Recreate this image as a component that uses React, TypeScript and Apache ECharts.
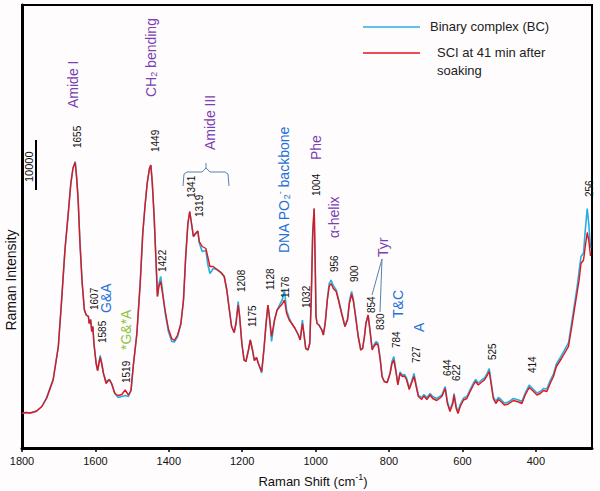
import React, { useEffect, useRef } from "react";
import * as echarts from "echarts";

// Raman shift (cm-1) sample positions
const shift = [
  1800, 1790, 1778, 1768, 1760, 1746, 1733, 1715, 1701, 1692,
  1683, 1674, 1667, 1661, 1655, 1651, 1647, 1642, 1636, 1630,
  1625, 1619, 1617, 1613, 1610, 1607, 1604, 1598, 1594, 1587,
  1583, 1578, 1571, 1562, 1556, 1547, 1538, 1528, 1519, 1510,
  1503, 1497, 1487, 1478, 1471, 1465, 1459, 1453, 1449, 1445,
  1440, 1435, 1431, 1427, 1422, 1416, 1410, 1401, 1392, 1385,
  1376, 1367, 1360, 1354, 1348, 1343, 1339, 1333, 1327, 1321,
  1317, 1309, 1299, 1294, 1288, 1279, 1269, 1258, 1249, 1242,
  1235, 1229, 1222, 1217, 1211, 1207, 1201, 1195, 1190, 1183,
  1178, 1172, 1167, 1161, 1156, 1147, 1141, 1135, 1130, 1126,
  1120, 1112, 1105, 1097, 1091, 1085, 1079, 1072, 1065, 1056,
  1047, 1042, 1036, 1032, 1027, 1021, 1016, 1012, 1008, 1004,
  1001, 999, 996, 991, 983, 979, 974, 968, 963, 958,
  952, 944, 938, 929, 920, 913, 908, 902, 897, 890,
  884, 877, 872, 867, 863, 857, 852, 846, 841, 835,
  830, 824, 819, 813, 805, 797, 792, 787, 782, 776,
  770, 764, 758, 752, 745, 739, 732, 726, 720, 711,
  705, 697, 688, 681, 670, 656, 647, 641, 634, 626,
  623, 617, 612, 606, 597, 588, 579, 570, 564, 557,
  549, 540, 534, 527, 522, 516, 509, 502, 495, 486,
  475, 461, 447, 438, 429, 418, 409, 397, 388, 379,
  370, 361, 352, 344, 330, 311, 302, 295, 288, 282,
  277, 270, 266, 260, 256, 251,
];

// Binary complex (BC)
const bc = [
  6900, 7100, 7000, 7200, 7400, 8300, 10100, 13800, 20300, 29600,
  39600, 46900, 52900, 56000, 57300, 54000, 49600, 40900, 32900, 27600,
  26600, 26300, 24900, 25700, 23300, 24300, 20900, 16900, 15500, 18500,
  17100, 14900, 13300, 13700, 12900, 10900, 10100, 10300, 10500, 10300,
  11500, 16300, 22900, 32900, 42900, 48300, 52900, 55800, 56600, 53000,
  46300, 37600, 30300, 32800, 34300, 30800, 27000, 23300, 21300, 21200,
  22300, 24900, 29600, 38300, 44900, 47300, 45300, 42300, 42900, 43400,
  41000, 39300, 39500, 36800, 34900, 35900, 35700, 35100, 34300, 31600,
  27600, 24300, 23100, 24900, 29300, 26300, 20900, 17600, 17300, 19600,
  21600, 19600, 17500, 18100, 16900, 15000, 19600, 24900, 28600, 26300,
  21300, 25600, 27600, 28800, 29600, 31600, 27500, 26000, 24900, 23900,
  22600, 21600, 25600, 22900, 19900, 19600, 20900, 29600, 42900, 47900,
  36300, 26300, 24900, 24600, 23600, 22600, 24900, 29900, 32900, 33600,
  32500, 31600, 29900, 26900, 24300, 25900, 29300, 31300, 29600, 25900,
  22300, 19600, 19900, 22300, 24900, 26600, 23600, 19900, 20600, 21300,
  21000, 17900, 14300, 13300, 13100, 15100, 17300, 18300, 15900, 12900,
  15200, 14600, 14700, 13900, 12000, 13200, 14900, 12600, 10500, 10100,
  10700, 10100, 10900, 10300, 9900, 10600, 12300, 9300, 7600, 9300,
  10900, 8300, 7300, 8700, 10000, 10300, 11700, 13000, 13700, 13000,
  13500, 14000, 14700, 15900, 13300, 10300, 9300, 10100, 9700, 9000,
  9200, 9900, 9600, 9300, 11000, 12600, 11900, 11000, 11300, 11900,
  11800, 13500, 14800, 16800, 18500, 21000, 25300, 28600, 32000, 35500,
  38300, 39000, 43000, 47900, 45000, 40000,
];

// SCI at 41 min after soaking
const sci = [
  6900, 7100, 7000, 7200, 7400, 8300, 9900, 13600, 20300, 29600,
  39600, 46900, 52900, 56000, 57100, 54000, 49600, 40900, 32900, 27600,
  26600, 26300, 24900, 25700, 23300, 24300, 20900, 16900, 15500, 18100,
  16900, 14900, 12900, 13700, 12900, 10900, 10500, 10700, 11600, 10600,
  11500, 16300, 22900, 32900, 42900, 48300, 52900, 55800, 56600, 53000,
  46300, 37600, 30300, 32300, 33300, 30300, 27500, 23800, 21900, 21500,
  22600, 24900, 29600, 38300, 44900, 47300, 45300, 42300, 42900, 43400,
  41300, 40300, 39900, 38300, 36300, 36300, 35700, 35100, 34300, 31600,
  27600, 24300, 23100, 24900, 28600, 26300, 20900, 17600, 17300, 19600,
  21600, 19600, 17500, 18100, 16900, 15300, 19600, 24900, 28600, 26300,
  22300, 25600, 27600, 28300, 28800, 29600, 26900, 25600, 24900, 23900,
  22600, 21600, 24900, 22900, 19900, 19600, 20900, 29600, 42900, 47900,
  36300, 26300, 24900, 24600, 23600, 22600, 24900, 29600, 32300, 32900,
  31900, 31300, 29600, 26900, 24300, 25600, 28900, 30800, 29300, 25600,
  22300, 19600, 19900, 22300, 24900, 26600, 23600, 19600, 20300, 20900,
  20600, 17600, 14300, 13300, 13100, 14900, 16900, 17600, 15600, 12600,
  14900, 14300, 14400, 13600, 11700, 12900, 14300, 12300, 10300, 9700,
  10400, 9700, 10600, 9900, 9500, 10300, 11900, 8900, 7300, 8900,
  10600, 7900, 6900, 8300, 9600, 9900, 11300, 12600, 13300, 12600,
  13100, 13600, 14300, 15300, 12900, 9900, 8900, 9700, 9300, 8600,
  8800, 9500, 9200, 8900, 10600, 12100, 11500, 10600, 10900, 11500,
  11300, 12900, 14300, 16300, 17900, 20300, 24300, 27600, 30900, 33600,
  36900, 37600, 39900, 43100, 41600, 38400,
];

const xTicks = [1800, 1600, 1400, 1200, 1000, 800, 600, 400];
const seriesNames = ["Binary complex (BC)", "SCI at 41 min after\nsoaking"];
const scaleBarText = "10000";

// peak label texts and their layout (pixel anchors: bottom end of rotated text)
const peakLabels = [
  { t: "1655", x: 77, y: 148 },
  { t: "1449", x: 155, y: 152 },
  { t: "1341", x: 191, y: 198 },
  { t: "1319", x: 199, y: 217 },
  { t: "1422", x: 162, y: 272 },
  { t: "1607", x: 94, y: 310 },
  { t: "1585", x: 102, y: 343 },
  { t: "1519", x: 126, y: 383 },
  { t: "1208", x: 241, y: 292 },
  { t: "1175", x: 252, y: 327 },
  { t: "1128", x: 270, y: 290 },
  { t: "1176", x: 285, y: 298 },
  { t: "1032", x: 306, y: 308 },
  { t: "1004", x: 316, y: 196 },
  { t: "956", x: 334, y: 272 },
  { t: "900", x: 354, y: 282 },
  { t: "854", x: 371, y: 313 },
  { t: "830", x: 380, y: 330 },
  { t: "784", x: 396, y: 348 },
  { t: "727", x: 416, y: 363 },
  { t: "644", x: 447, y: 376 },
  { t: "622", x: 456, y: 381 },
  { t: "525", x: 492, y: 360 },
  { t: "414", x: 532, y: 373 },
  { t: "256", x: 589, y: 197 },
];

const FONT = "'Liberation Sans', Arial, sans-serif";
const PURPLE = "#7a3fb0";
const BLUE_T = "#2470d8";
const GREEN_T = "#8cc63e";
const BRACKET = "#5a80ab";
const C_BC = "#27aee0";
const C_SCI = "#e3141b";

function rotText(text: string, x: number, y: number, fontSize: number, fill: string, rich?: any) {
  const style: any = {
    text,
    fill,
    fontSize,
    fontFamily: FONT,
    align: "left",
    verticalAlign: "middle",
  };
  if (rich) style.rich = rich;
  return { type: "text", x, y, rotation: Math.PI / 2, z: 50, silent: true, style };
}

export default function App() {
  const ref = useRef<HTMLDivElement>(null);
  useEffect(() => {
    if (!ref.current) return;
    const chart = echarts.init(ref.current, undefined, { renderer: "svg" });

    const graphic: any[] = [];
    peakLabels.forEach((p) => graphic.push(rotText(p.t, p.x, p.y, 10, "#111")));

    graphic.push(rotText("Amide I", 73, 108, 14, PURPLE));
    graphic.push(
      rotText("{a|CH}{s|2}{a| bending}", 150, 97, 14, PURPLE, {
        a: { fontSize: 14, fill: PURPLE, fontFamily: FONT, lineHeight: 16, verticalAlign: "bottom" },
        s: { fontSize: 9, fill: PURPLE, fontFamily: FONT, lineHeight: 8, verticalAlign: "bottom" },
      })
    );
    graphic.push(rotText("Amide III", 210, 150, 14, PURPLE));
    graphic.push(rotText("G&A", 106, 313, 14, BLUE_T));
    graphic.push(rotText("*G&*A", 126, 350, 14, GREEN_T));
    graphic.push(
      rotText("{a|DNA PO}{s|2}{p|-}{a| backbone}", 283, 253, 14, BLUE_T, {
        a: { fontSize: 14, fill: BLUE_T, fontFamily: FONT, lineHeight: 16, verticalAlign: "bottom" },
        s: { fontSize: 9, fill: BLUE_T, fontFamily: FONT, lineHeight: 8, verticalAlign: "bottom" },
        p: { fontSize: 9, fill: BLUE_T, fontFamily: FONT, lineHeight: 8, verticalAlign: "top" },
      })
    );
    graphic.push(rotText("Phe", 316, 160, 14, PURPLE));
    graphic.push(rotText("α-helix", 334, 238, 14, PURPLE));
    graphic.push(rotText("Tyr", 383, 257, 14, PURPLE));
    graphic.push(rotText("T&C", 398, 318, 14, BLUE_T));
    graphic.push(rotText("A", 419, 332, 14, BLUE_T));

    // Amide III bracket
    graphic.push({
      type: "polyline",
      z: 50,
      silent: true,
      shape: { points: [[183, 186], [184, 174], [187, 172], [202, 172], [206, 168], [210, 172], [225, 172], [228, 174], [229, 186]] },
      style: { stroke: BRACKET, lineWidth: 1, fill: null },
    });
    graphic.push({ type: "line", z: 50, silent: true, shape: { x1: 206, y1: 168, x2: 206, y2: 163 }, style: { stroke: BRACKET, lineWidth: 1 } });

    // Tyr leader lines
    graphic.push({ type: "line", z: 50, silent: true, shape: { x1: 382, y1: 259, x2: 372, y2: 295 }, style: { stroke: BRACKET, lineWidth: 1 } });
    graphic.push({ type: "line", z: 50, silent: true, shape: { x1: 382, y1: 259, x2: 380, y2: 312 }, style: { stroke: BRACKET, lineWidth: 1 } });

    // scale bar
    graphic.push({ type: "line", z: 50, silent: true, shape: { x1: 36, y1: 140, x2: 36, y2: 190 }, style: { stroke: "#000", lineWidth: 2 } });
    graphic.push(rotText(scaleBarText, 29, 182, 11, "#111"));

    // axis names
    graphic.push({
      type: "text",
      x: 11,
      y: 280,
      rotation: Math.PI / 2,
      z: 50,
      silent: true,
      style: { text: "Raman Intensity", fill: "#111", fontSize: 14, fontFamily: FONT, align: "center", verticalAlign: "middle" },
    });
    graphic.push({
      type: "text",
      x: 313,
      y: 480,
      z: 50,
      silent: true,
      style: {
        text: "{a|Raman Shift (cm}{p|-1}{a|)}",
        fill: "#111",
        fontSize: 13,
        fontFamily: FONT,
        align: "center",
        verticalAlign: "middle",
        rich: {
          a: { fontSize: 13, fill: "#111", fontFamily: FONT, lineHeight: 15, verticalAlign: "bottom" },
          p: { fontSize: 9, fill: "#111", fontFamily: FONT, lineHeight: 8, verticalAlign: "top" },
        },
      },
    });

    // legend
    graphic.push({ type: "line", z: 50, silent: true, shape: { x1: 363, y1: 27, x2: 420, y2: 27 }, style: { stroke: C_BC, lineWidth: 1.5 } });
    graphic.push({
      type: "text",
      x: 430,
      y: 26,
      z: 50,
      silent: true,
      style: { text: seriesNames[0], fill: "#222", fontSize: 13, fontFamily: FONT, align: "left", verticalAlign: "middle" },
    });
    graphic.push({ type: "line", z: 50, silent: true, shape: { x1: 363, y1: 53, x2: 420, y2: 53 }, style: { stroke: C_SCI, lineWidth: 1.5 } });
    graphic.push({
      type: "text",
      x: 437,
      y: 43,
      z: 50,
      silent: true,
      style: { text: seriesNames[1], fill: "#222", fontSize: 13, lineHeight: 18, fontFamily: FONT, align: "left", verticalAlign: "top" },
    });

    chart.setOption({
      animation: false,
      backgroundColor: "#fefcfd",
      grid: { left: 22, right: 8, top: 5, bottom: 43, show: true, borderColor: "#000", borderWidth: 2, backgroundColor: "transparent" },
      xAxis: {
        type: "value",
        inverse: true,
        min: 247,
        max: 1800,
        axisLine: { show: true, lineStyle: { color: "#000", width: 3 } },
        axisTick: { show: true, length: 4, lineStyle: { color: "#000", width: 1.5 }, customValues: xTicks },
        axisLabel: {
          fontSize: 11,
          color: "#111",
          margin: 7,
          fontFamily: FONT,
          customValues: xTicks,
          formatter: (v: number) => String(Math.round(v)),
        },
        splitLine: { show: false },
      },
      yAxis: {
        type: "value",
        min: 0,
        max: 88600,
        axisLine: { show: true, lineStyle: { color: "#000", width: 3 } },
        axisTick: { show: false },
        axisLabel: { show: false },
        splitLine: { show: false },
      },
      series: [
        {
          name: seriesNames[0],
          type: "line",
          showSymbol: false,
          data: shift.map((s, i) => [s, bc[i]]),
          lineStyle: { color: C_BC, width: 1.6 },
          itemStyle: { color: C_BC },
          z: 2,
        },
        {
          name: seriesNames[1],
          type: "line",
          showSymbol: false,
          data: shift.map((s, i) => [s, sci[i]]),
          lineStyle: { color: C_SCI, width: 1.4 },
          itemStyle: { color: C_SCI },
          z: 3,
        },
      ],
      graphic,
    });
    return () => chart.dispose();
  }, []);

  return <div ref={ref} style={{ position: "fixed", left: 0, top: 0, width: 600, height: 491 }} />;
}
